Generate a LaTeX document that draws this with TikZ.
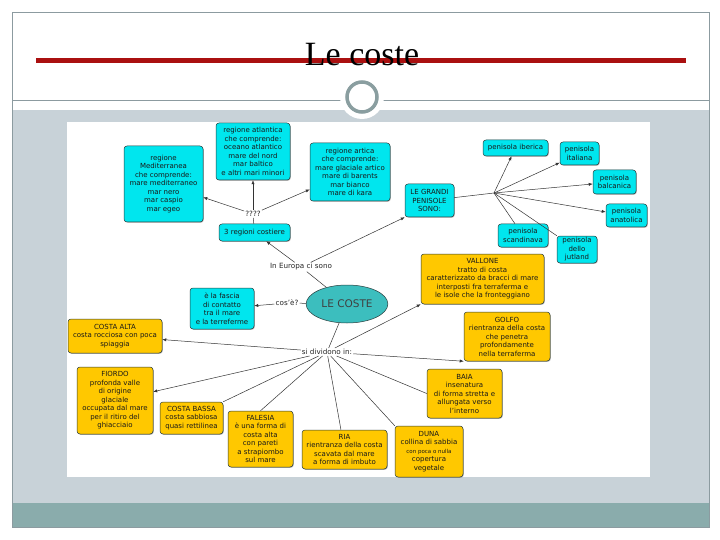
\documentclass[tikz,border=0pt]{standalone}
\usepackage{fontspec}
\setmainfont{DejaVu Sans}
\newfontfamily\titlefont{Liberation Serif}
\usetikzlibrary{arrows.meta,shadows,shapes.geometric}
\definecolor{cyanbox}{RGB}{0,230,238}
\definecolor{goldbox}{RGB}{255,200,0}
\definecolor{tealell}{RGB}{60,190,190}
\definecolor{boxline}{RGB}{40,60,60}
\definecolor{slidegray}{RGB}{200,210,216}
\definecolor{slideteal}{RGB}{138,172,172}
\definecolor{framegray}{RGB}{140,155,160}
\definecolor{titlered}{RGB}{170,16,16}
\definecolor{ringgray}{RGB}{138,158,160}
\begin{document}
\begin{tikzpicture}[x=1pt,y=-1pt,
  cbox/.style={draw=boxline, line width=0.5pt, fill=cyanbox, rounded corners=3pt, align=center, inner sep=1pt,
    font=\fontsize{7}{8.5}\selectfont, text=black!90,
    drop shadow={shadow xshift=0.8pt,shadow yshift=-0.8pt,fill=black!55}},
  ybox/.style={cbox, fill=goldbox},
  lbl/.style={font=\fontsize{7.2}{8}\selectfont, inner sep=1pt, text=black!85},
  conn/.style={draw=black!80, line width=0.5pt},
  arr/.style={conn, -{Latex[length=4pt,width=3.2pt]}},
]
\useasboundingbox (0,0) rectangle (720,540);
% slide background
\fill[white] (0,0) rectangle (720,540);
\fill[slidegray] (12,110) rectangle (709,503);
\fill[slideteal] (12,503) rectangle (709,527);
\draw[framegray, line width=0.8pt] (12,12) rectangle (709,527);
\draw[framegray, line width=0.8pt] (12,100) -- (709,100);
\fill[white] (362,97) circle[radius=22pt];
\draw[ringgray, line width=3.5pt] (362,97) circle[radius=15pt];
\fill[white] (67,122) rectangle (650,477);
\draw[titlered, line width=4.5pt] (36,60.5) -- (686,60.5);
\node[font=\titlefont\fontsize{34}{34}\selectfont, anchor=base, inner sep=0pt] (title) at (362,66) {Le coste};

% boxes
\node[cbox, minimum width=79pt, minimum height=76pt] (med) at (163.5,184) {regione\\Mediterranea\\che comprende:\\mare mediterraneo\\mar nero\\mar caspio\\mar egeo};
\node[cbox, minimum width=74pt, minimum height=57pt] (atl) at (253,151.5) {regione atlantica\\che comprende:\\oceano atlantico\\mare del nord\\mar baltico\\e altri mari minori};
\node[cbox, minimum width=80pt, minimum height=58pt] (art) at (350,172) {regione artica\\che comprende:\\mare glaciale artico\\mare di barents\\mar bianco\\mare di kara};
\node[cbox, minimum width=71pt, minimum height=17pt] (reg3) at (254.5,232.5) {3 regioni costiere};
\node[cbox, minimum width=49pt, minimum height=33pt] (grandi) at (429.5,200.5) {LE GRANDI\\PENISOLE\\SONO:};
\node[cbox, minimum width=65pt, minimum height=16pt] (iber) at (515.5,148) {penisola iberica};
\node[cbox, minimum width=39pt, minimum height=23pt] (ital) at (579.5,153.5) {penisola\\italiana};
\node[cbox, minimum width=43pt, minimum height=24pt] (balc) at (614.5,182) {penisola\\balcanica};
\node[cbox, minimum width=41pt, minimum height=23pt] (anat) at (626.5,215.5) {penisola\\anatolica};
\node[cbox, minimum width=50pt, minimum height=23pt] (scan) at (523,235.5) {penisola\\scandinava};
\node[cbox, minimum width=40pt, minimum height=27pt] (jut) at (577,249.5) {penisola\\dello\\jutland};
\node[cbox, minimum width=64pt, minimum height=41pt] (fascia) at (222,308.5) {è la fascia\\di contatto\\tra il mare\\e la terreferme};
\node[ybox, minimum width=123pt, minimum height=50pt] (vall) at (482.5,279) {VALLONE\\tratto di costa\\caratterizzato da bracci di mare\\interposti fra terraferma e\\le isole che la fronteggiano};
\node[ybox, minimum width=86pt, minimum height=49pt] (golfo) at (507,336.5) {GOLFO\\rientranza della costa\\che penetra\\profondamente\\nella terraferma};
\node[ybox, minimum width=94pt, minimum height=34pt] (calta) at (115,336) {COSTA ALTA\\costa rocciosa con poca\\spiaggia};
\node[ybox, minimum width=76pt, minimum height=67pt] (fior) at (115,400.5) {FIORDO\\profonda valle\\di origine\\glaciale\\occupata dal mare\\per il ritiro del\\ghiacciaio};
\node[ybox, minimum width=63pt, minimum height=32pt] (cbassa) at (191.5,418) {COSTA BASSA\\costa sabbiosa\\quasi rettilinea};
\node[ybox, minimum width=65pt, minimum height=56pt] (fal) at (260.5,439) {FALESIA\\è una forma di\\costa alta\\con pareti\\a strapiombo\\sul mare};
\node[ybox, minimum width=85pt, minimum height=39pt] (ria) at (344.5,449.5) {RIA\\rientranza della costa\\scavata dal mare\\a forma di imbuto};
\node[ybox, minimum width=68pt, minimum height=51pt] (duna) at (429,451.5) {DUNA\\collina di sabbia\\{\fontsize{5.5}{8.5}\selectfont con poca o nulla}\\copertura\\vegetale};
\node[ybox, minimum width=75pt, minimum height=49pt] (baia) at (464.5,393.5) {BAIA\\insenatura\\di forma stretta e\\allungata verso\\l'interno};
\node[ellipse, draw=boxline, line width=0.5pt, fill=tealell, minimum width=79pt, minimum height=38pt,
  font=\fontsize{10.5}{12}\selectfont, text=black!75] (coste) at (347,304) {LE COSTE};

% labels
\node[lbl] (europa) at (301,267) {In Europa ci sono};
\node[lbl] (cosa) at (287,303) {cos'è?};
\node[lbl] (divid) at (327,352) {si dividono in:};
\node[lbl] (quest) at (253,214) {????};
\coordinate (hubP) at (494,193);

% connectors
\draw[conn] (coste) -- (europa);
\draw[arr] (europa) -- (reg3);
\draw[arr] (europa) -- (grandi.south west);
\draw[conn] (reg3) -- (quest);
\draw[arr] (quest) -- (med);
\draw[arr] (quest) -- (atl);
\draw[arr] (quest) -- (art);
\draw[conn] (grandi) -- (hubP);
\draw[arr] (hubP) -- (iber);
\draw[arr] (hubP) -- (ital);
\draw[arr] (hubP) -- (balc);
\draw[arr] (hubP) -- (anat);
\draw[conn] (hubP) -- (scan);
\draw[conn] (hubP) -- (jut);
\draw[conn] (coste) -- (cosa);
\draw[arr] (cosa) -- (fascia);
\draw[conn] (coste) -- (divid);
\draw[arr] (divid) -- (calta);
\draw[arr] (divid) -- (fior);
\draw[arr] (divid) -- (golfo.south west);
\draw[arr] (divid) -- (vall.south west);
\draw[conn] (divid) -- (cbassa.north east);
\draw[conn] (divid) -- (fal.north);
\draw[conn] (divid) -- (ria);
\draw[conn] (divid) -- (duna.north west);
\draw[conn] (divid) -- (baia.west);
\end{tikzpicture}
\end{document}
